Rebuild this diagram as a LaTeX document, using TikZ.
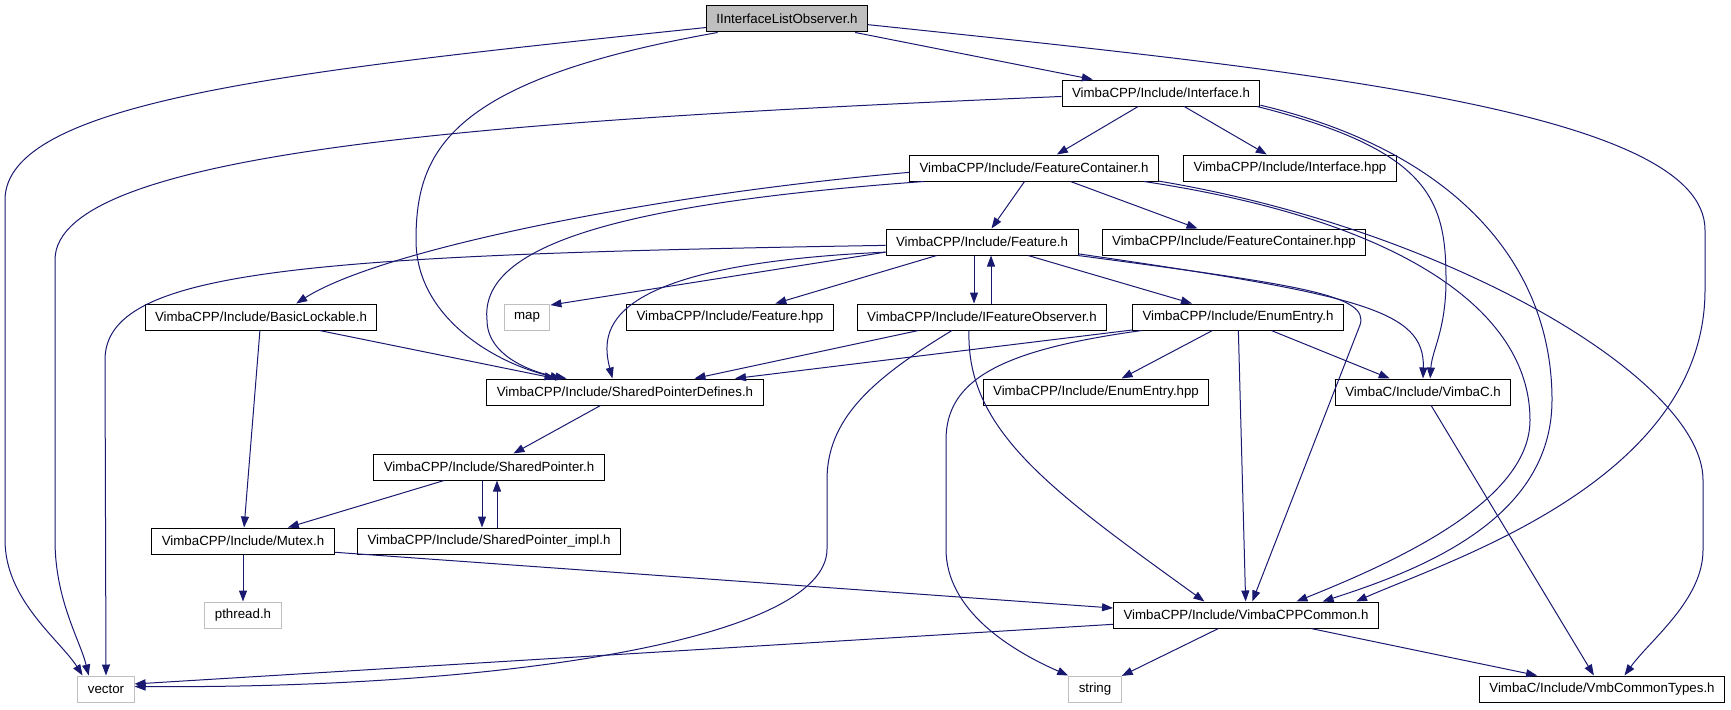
\documentclass[tikz,border=0pt]{standalone}
\usepackage{fontspec}
\setmainfont{Liberation Sans}
\usetikzlibrary{arrows.meta}
\definecolor{edgeblue}{HTML}{191970}
\definecolor{boxgray}{HTML}{BFBFBF}
\begin{document}
\begin{tikzpicture}[x=1pt,y=-1pt,
    file/.style={draw=black,line width=1pt,fill=white,minimum height=26pt,inner xsep=10pt,inner ysep=0pt,font=\fontsize{13.3}{15}\selectfont},
    sysfile/.style={file,draw=boxgray},
    dep/.style={draw=edgeblue,line width=1pt,-{Triangle[length=11pt,width=8pt]}}]
\useasboundingbox (0,0) rectangle (1731,709);

\node[file,fill=boxgray] (root) at (787,19) {IInterfaceListObserver.h};
\node[file] (iface) at (1161,93) {VimbaCPP/Include/Interface.h};
\node[file] (fcont) at (1034,168) {VimbaCPP/Include/FeatureContainer.h};
\node[file] (ifacehpp) at (1290,168) {VimbaCPP/Include/Interface.hpp};
\node[file] (feat) at (982,242) {VimbaCPP/Include/Feature.h};
\node[file] (fconthpp) at (1234,242) {VimbaCPP/Include/FeatureContainer.hpp};
\node[file] (block) at (261,317) {VimbaCPP/Include/BasicLockable.h};
\node[sysfile] (map) at (527,317) {map};
\node[file] (feathpp) at (730,317) {VimbaCPP/Include/Feature.hpp};
\node[file] (ifobs) at (982,317) {VimbaCPP/Include/IFeatureObserver.h};
\node[file] (enum) at (1238,317) {VimbaCPP/Include/EnumEntry.h};
\node[file] (spd) at (625,392) {VimbaCPP/Include/SharedPointerDefines.h};
\node[file] (enumhpp) at (1096,392) {VimbaCPP/Include/EnumEntry.hpp};
\node[file] (vimbac) at (1423,392) {VimbaC/Include/VimbaC.h};
\node[file] (sptr) at (489,467) {VimbaCPP/Include/SharedPointer.h};
\node[file] (mutex) at (243,541) {VimbaCPP/Include/Mutex.h};
\node[file] (simpl) at (489,541) {VimbaCPP/Include/SharedPointer\_impl.h};
\node[sysfile] (pthread) at (243,615) {pthread.h};
\node[file] (common) at (1246,615) {VimbaCPP/Include/VimbaCPPCommon.h};
\node[sysfile] (vector) at (106,689) {vector};
\node[sysfile] (string) at (1095,689) {string};
\node[file] (vmbtypes) at (1602,689) {VimbaC/Include/VmbCommonTypes.h};

\foreach \a/\b in {root/iface,iface/fcont,iface/ifacehpp,fcont/feat,fcont/fconthpp,feat/feathpp,feat/enum,enum/enumhpp,enum/vimbac,enum/common,block/mutex,spd/sptr,sptr/mutex,mutex/pthread,common/string,common/vmbtypes,vimbac/vmbtypes}
{
    \draw[dep] (\a) -- (\b);
}

\draw[dep] ([xshift=-8pt]feat.south) -- ([xshift=-8pt]ifobs.north);
\draw[dep] ([xshift=9pt]ifobs.north) -- ([xshift=9pt]feat.south);
\draw[dep] ([xshift=-7pt]sptr.south) -- ([xshift=-7pt]simpl.north);
\draw[dep] ([xshift=8pt]simpl.north) -- ([xshift=8pt]sptr.south);
\draw[dep] (feat.186) -- (map.27);
\draw[dep] (block.347) -- (spd.169);
\draw[dep] (ifobs.192) -- (spd.11);
\draw[dep] (enum.187) -- (spd.7);
\draw[dep] (mutex.353) -- (common.177);
\draw[dep] (common.184) -- (vector.10);

\draw[dep] (root.186) .. controls (300,70) and (5,100) .. (5,200) -- (5,540) .. controls (5,600) and (60,640) .. (vector.150);
\draw[dep] (iface.182) .. controls (500,120) and (55,150) .. (55,260) -- (55,540) .. controls (55,600) and (80,640) .. (vector.142);
\draw[dep] (feat.182) .. controls (300,255) and (105,270) .. (105,360) -- (vector.north);
\draw[dep] ([xshift=-30pt]ifobs.south) .. controls (870,380) and (827,420) .. (827,480) -- (827,549) .. controls (827,640) and (500,689) .. (vector.5);
\draw[dep] (root.191) .. controls (450,80) and (416,150) .. (416,240) .. controls (416,320) and (500,365) .. (spd.168);
\draw[dep] (fcont.182) .. controls (650,195) and (380,250) .. (block.21);
\draw[dep] (fcont.187) .. controls (600,205) and (480,250) .. (487,320) .. controls (487,355) and (530,372) .. (spd.167);
\draw[dep] (feat.186) .. controls (600,265) and (600,330) .. (spd.133);
\draw[dep] (feat.353) .. controls (1360,295) and (1425,310) .. (vimbac.north);
\draw[dep] (feat.352) .. controls (1300,285) and (1370,295) .. (1360,325) -- (common.65);
\draw[dep] ([xshift=-13pt]ifobs.south) .. controls (966,430) and (1050,490) .. (common.162);
\draw[dep] (enum.188) .. controls (1000,350) and (946,380) .. (946,440) -- (946,549) .. controls (946,610) and (1010,650) .. (string.north west);
\draw[dep] (fcont.353) .. controls (1400,220) and (1530,310) .. (1530,420) .. controls (1530,500) and (1400,560) .. (common.15);
\draw[dep] (fcont.354) .. controls (1450,230) and (1703,380) .. (1703,480) -- (1703,550) .. controls (1703,600) and (1650,640) .. (vmbtypes.31);
\draw[dep] (iface.352) .. controls (1430,150) and (1446,200) .. (1446,280) .. controls (1446,330) and (1432,350) .. (vimbac.62);
\draw[dep] (iface.353) .. controls (1450,150) and (1552,260) .. (1552,400) .. controls (1552,520) and (1420,570) .. (common.10);
\draw[dep] (root.356) .. controls (1300,70) and (1705,110) .. (1705,230) -- (1705,290) .. controls (1705,480) and (1450,560) .. (common.7);

\end{tikzpicture}
\end{document}
